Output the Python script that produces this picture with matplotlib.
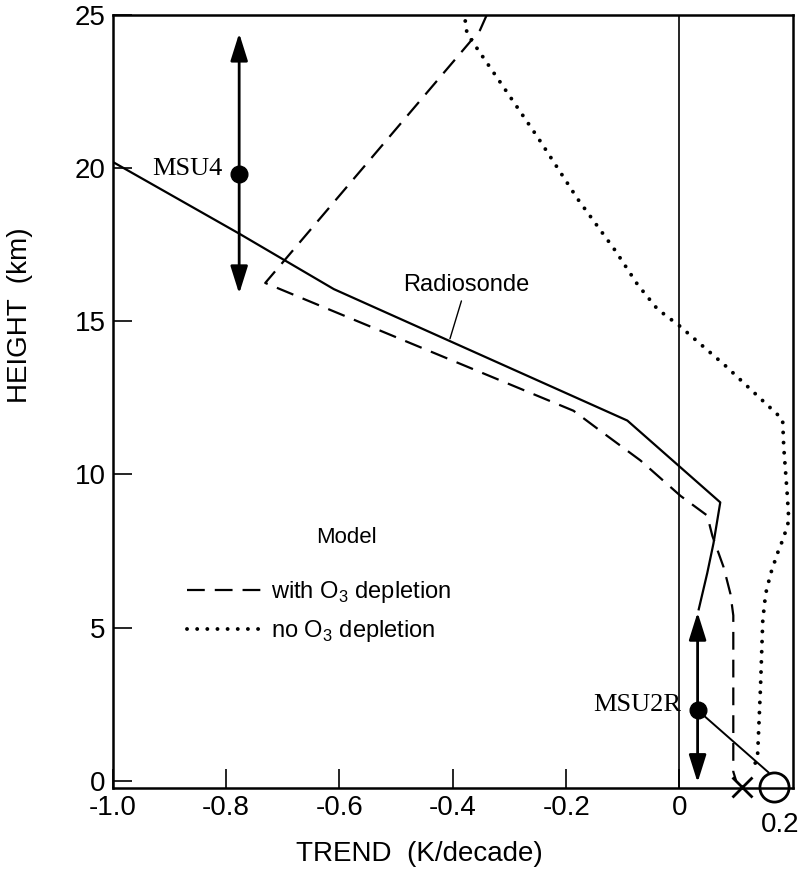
import matplotlib
matplotlib.use("Agg")
import matplotlib.pyplot as plt

plt.rcParams["font.family"] = ["Liberation Sans", "DejaVu Sans"]
plt.rcParams["mathtext.fontset"] = "custom"
plt.rcParams["mathtext.rm"] = "Liberation Sans"

# radiosonde observed trend profile (K/decade vs km)
radio_trend = [-1.0, -0.776, -0.61, -0.528, -0.092, 0.072, 0.06, 0.049, 0.034]
radio_height = [20.2, 17.85, 16.05, 15.37, 11.76, 9.09, 7.75, 6.78, 5.6]

# model with ozone depletion
dash_trend = [-0.34, -0.352, -0.731, -0.187, -0.14, -0.069, 0.002, 0.049,
              0.058, 0.078, 0.09, 0.095, 0.095, 0.1]
dash_height = [25.0, 24.5, 16.25, 12.08, 11.43, 10.46, 9.3, 8.66,
               8.0, 6.97, 6.1, 5.4, 0.3, 0.0]

# model without ozone depletion
dot_trend = [-0.378, -0.375, -0.357, -0.32, -0.25, -0.18, -0.113, -0.074, -0.039,
             0.0, 0.081, 0.182, 0.184, 0.19, 0.193, 0.184, 0.173, 0.161, 0.152,
             0.147, 0.143, 0.138, 0.13]
dot_height = [24.8, 24.4, 23.9, 22.9, 21.0, 19.0, 17.3, 16.2, 15.4,
              14.85, 13.55, 11.8, 10.9, 9.4, 8.5, 7.95, 7.43, 6.77, 6.1,
              5.24, 3.06, 0.9, 0.3]

# MSU channel trends with vertical extent of weighting
msu_names = ["MSU4", "MSU2R"]
msu_trend = [-0.777, 0.032]
msu_height = [19.8, 2.31]
msu_top = [24.4, 5.5]
msu_bottom = [15.9, -0.05]

# surface values
sfc_x_trend = 0.111
sfc_o_trend = 0.166
sfc_height = -0.2

xtick_vals = [-1.0, -0.8, -0.6, -0.4, -0.2, 0]
xtick_labels = ["-1.0", "-0.8", "-0.6", "-0.4", "-0.2", "0"]
ytick_vals = [0, 5, 10, 15, 20, 25]

fig = plt.figure(figsize=(8, 8.73), dpi=100)
ax = fig.add_axes([0.141, 0.0974, 0.85, 0.8856])

ax.plot(radio_trend, radio_height, color="black", lw=1.6)
ax.plot(dash_trend, dash_height, color="black", lw=1.6,
        linestyle=(0, (8, 4.5)), label="with O$_3$ depletion")
ax.plot(dot_trend, dot_height, color="black", lw=2.8,
        linestyle=(0, (0.01, 2.6)), dash_capstyle="round",
        label="no O$_3$ depletion")

ax.axvline(0, color="black", lw=1.2)

for name, xv, yv, top, bot in zip(msu_names, msu_trend, msu_height, msu_top, msu_bottom):
    for tip in (top, bot):
        ax.annotate("", xy=(xv, tip), xytext=(xv, yv),
                    arrowprops=dict(arrowstyle="-|>,head_length=0.7,head_width=0.22",
                                    lw=2, color="black", mutation_scale=24,
                                    shrinkA=0, shrinkB=0))
    ax.plot(xv, yv, "o", color="black", markersize=12, zorder=5)
    ax.annotate(name, xy=(xv, yv), xytext=(-12, 4), textcoords="offset points",
                ha="right", va="center", fontsize=19, family="Liberation Serif")

# MSU2R to surface connector
ax.plot([msu_trend[1], 0.157], [msu_height[1], 0.28], color="black", lw=1.4)

ax.plot(sfc_x_trend, sfc_height, "x", color="black", markersize=14, mew=2, clip_on=False, zorder=6)
ax.plot(sfc_o_trend, sfc_height, "o", markerfacecolor="none", markeredgecolor="black",
        markersize=21, mew=2, clip_on=False, zorder=6)

ax.annotate("Radiosonde", xy=(-0.405, 14.43), xytext=(-0.376, 16.2),
            ha="center", va="center", fontsize=17,
            arrowprops=dict(arrowstyle="-", lw=1, color="black", shrinkA=2, shrinkB=0))

ax.set_xlim(-1.0, 0.2)
ax.set_ylim(-0.23, 25)
ax.set_xticks(xtick_vals)
ax.set_xticklabels(xtick_labels)
ax.set_yticks(ytick_vals)
ax.tick_params(direction="in", length=14, width=1.2, labelsize=20, pad=5)
ax.annotate("0.2", xy=(0.2, 0), xycoords=("data", "axes fraction"),
            xytext=(5, -17), textcoords="offset points", ha="right", va="top", fontsize=20)

for s in ax.spines.values():
    s.set_linewidth(1.8)

ax.set_xlabel("TREND  (K/decade)", fontsize=20, va="center")
ax.xaxis.set_label_coords(0.451, -0.085)
ax.set_ylabel("HEIGHT  (km)", fontsize=20)
ax.yaxis.set_label_coords(-0.118, 0.612)

ax.text(-0.587, 7.95, "Model", ha="center", va="center", fontsize=16)
ax.legend(loc="upper left", bbox_to_anchor=(0.109, 0.270), frameon=False,
          fontsize=17, handlelength=3.3, handletextpad=0.25, borderpad=0,
          borderaxespad=0, labelspacing=0.55)

fig.savefig("out.png", dpi=100)
